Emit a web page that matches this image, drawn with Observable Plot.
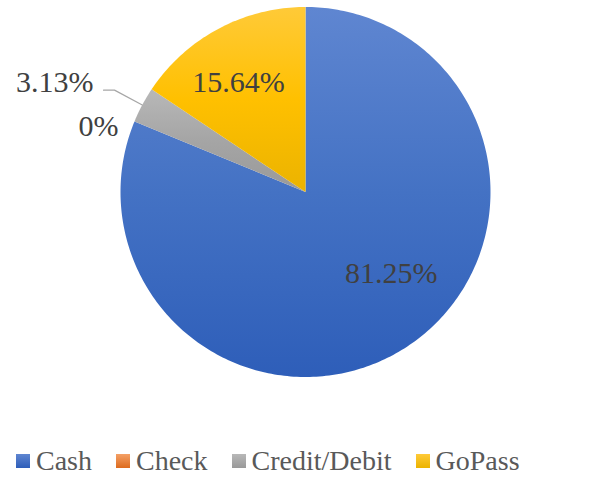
<!DOCTYPE html>
<html><head><meta charset="utf-8">
<script src="https://cdn.jsdelivr.net/npm/d3@7"></script>
<script src="https://cdn.jsdelivr.net/npm/@observablehq/plot@0.6"></script>
<style>
body{margin:0;background:#fff;width:605px;height:480px;overflow:hidden;position:relative;}
#legend, #legend *, svg text{font-family:"Liberation Serif","Times New Roman",serif !important;}
#legend{position:absolute;left:16px;top:446px;display:flex;align-items:center;font-size:28px;color:#595959;line-height:30px;white-space:nowrap;}
.item{display:flex;align-items:center;margin-right:24px}
.sw{width:14px;height:14px;margin-right:6px}
</style></head><body><div id="chart"></div><div id="legend"></div>
<script>
// ---- data ----
const categories = ["Cash", "Check", "Credit/Debit", "GoPass"];
const percents = [81.25, 0, 3.13, 15.64];
const labels = ["81.25%", "0%", "3.13%", "15.64%"];

// ---- styles ----
const gradStops = {
  "Cash": ["#5f86d1", "#4472c4", "#2e5eb9"],
  "Check": ["#f4a066", "#ed7d31", "#dd6b1e"],
  "Credit/Debit": ["#b8b8b8", "#a5a5a5", "#999999"],
  "GoPass": ["#ffca38", "#ffc000", "#ebb300"]
};
const FONT = '"Liberation Serif", "Times New Roman", serif';
const W = 605, H = 440, cx = 305, cy = 191.5, R = 185;
const gid = c => "g" + categories.indexOf(c);

const arcs = d3.pie().sort(null).value(d => d)(percents);
const pt = (a, r) => ({x: cx + r * Math.sin(a), y: cy - r * Math.cos(a)});

function slicePoly(a0, a1) {
  const pts = [pt(0, 0)];
  const n = Math.max(2, Math.ceil((a1 - a0) / (Math.PI / 180)));
  for (let i = 0; i <= n; i++) pts.push(pt(a0 + (a1 - a0) * i / n, R));
  pts.push(pt(0, 0));
  return pts;
}
const circle = slicePoly(0, 2 * Math.PI);

const marks = [];
marks.push(Plot.line(circle, {x: "x", y: "y", fill: "#ffffff", stroke: "none", ariaLabel: "pie-shadow"}));
arcs.forEach((a, i) => {
  if (a.endAngle - a.startAngle <= 0) return;
  marks.push(Plot.line(slicePoly(a.startAngle, a.endAngle), {
    x: "x", y: "y", fill: `url(#${gid(categories[i])})`, stroke: "none"
  }));
});

const mid = a => (a.startAngle + a.endAngle) / 2;
const textStyle = {fontFamily: "Liberation Serif", fontSize: 30, fill: "#404040", text: "t", x: "x", y: "y"};

// inside labels
const cashA = arcs[0], goA = arcs[3];
marks.push(Plot.text([{...pt(mid(cashA), 0.62 * R), t: labels[0]}], {...textStyle, dx: 22, dy: -14}));
marks.push(Plot.text([{...pt(mid(goA), 0.70 * R), t: labels[3]}], {...textStyle, dx: -6, dy: 5}));

// Check label (0%)
marks.push(Plot.text([{...pt(arcs[1].startAngle, R), t: labels[1]}], {...textStyle, textAnchor: "end", dx: -16, dy: 5}));

// Credit/Debit leader + label
const crA = arcs[2];
const edge = pt(mid(crA), R);
const elbow = pt(mid(crA), 1.17 * R);
const tail = {x: elbow.x - 11, y: elbow.y};
marks.push(Plot.line([edge, elbow, tail], {x: "x", y: "y", stroke: "#a6a6a6", strokeWidth: 1.2}));
marks.push(Plot.text([{...tail, t: labels[2]}], {...textStyle, textAnchor: "end", dx: -10, dy: -8}));

const svg = Plot.plot({
  width: W, height: H, margin: 0,
  x: {domain: [0, W], range: [0, W], axis: null},
  y: {domain: [0, H], range: [0, H], axis: null},
  marks
});

const defs = d3.select(svg).insert("defs", ":first-child");
categories.forEach(c => {
  const g = defs.append("linearGradient").attr("id", gid(c)).attr("x1", 0).attr("y1", 0).attr("x2", 0).attr("y2", 1);
  gradStops[c].forEach((col, k) => g.append("stop").attr("offset", k / 2).attr("stop-color", col));
});
const f = defs.append("filter").attr("id", "shadow").attr("x", "-10%").attr("y", "-10%").attr("width", "125%").attr("height", "125%");
f.append("feDropShadow").attr("dx", 1).attr("dy", 3).attr("stdDeviation", 3).attr("flood-color", "#000").attr("flood-opacity", 0.45);
d3.select(svg).select('g[aria-label="pie-shadow"]').attr("filter", "url(#shadow)");
d3.select(svg).selectAll("text").style("font-family", FONT);

document.getElementById("chart").appendChild(svg);

// legend
const leg = d3.select("#legend").style("font-family", FONT);
categories.forEach(c => {
  const it = leg.append("div").attr("class", "item");
  it.append("div").attr("class", "sw").style("background", `linear-gradient(${gradStops[c][0]}, ${gradStops[c][2]})`);
  it.append("span").text(c).style("font-family", FONT);
});
</script></body></html>
